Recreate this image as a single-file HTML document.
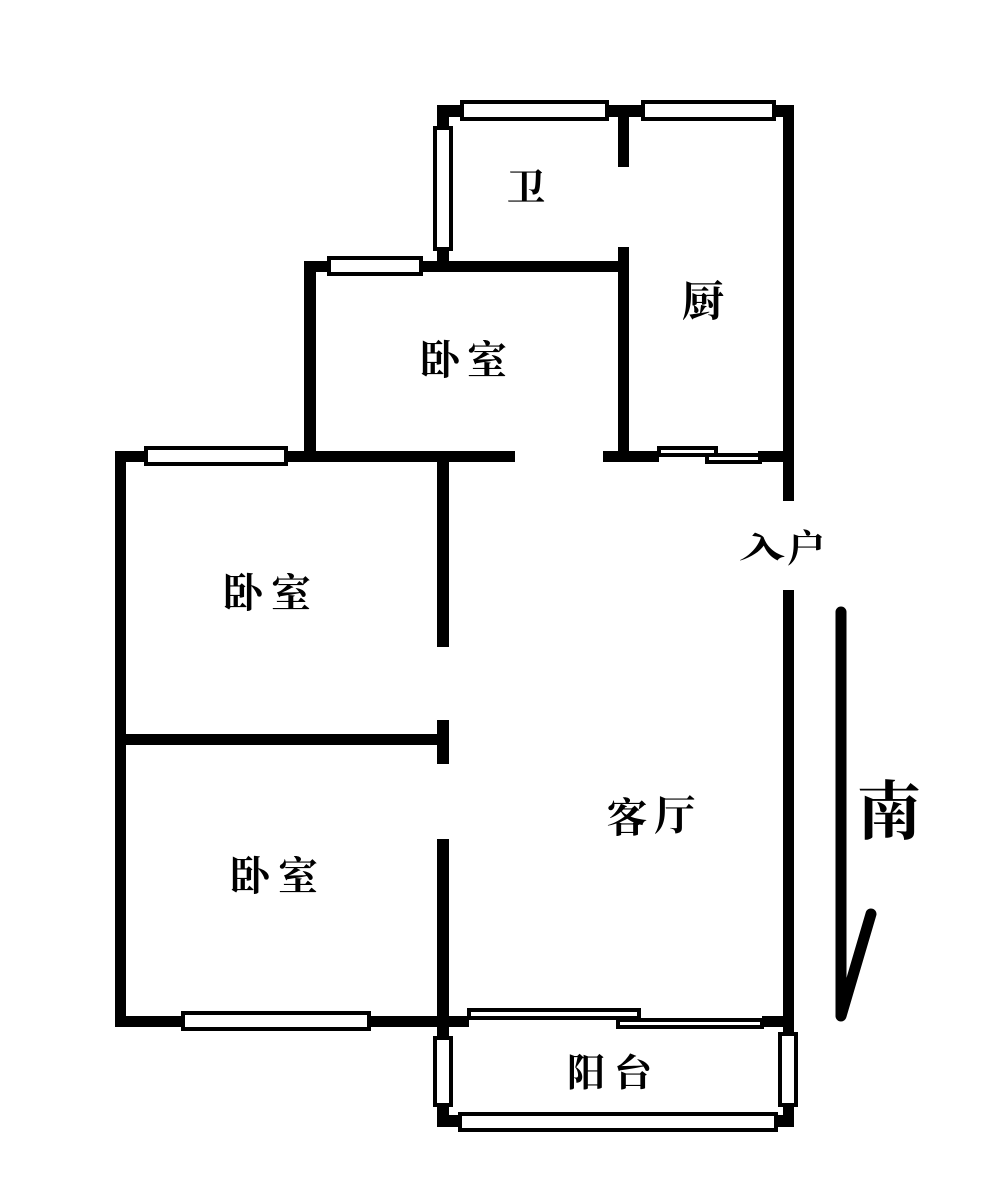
<!DOCTYPE html>
<html>
<head>
<meta charset="utf-8">
<style>
html,body{margin:0;padding:0;background:#fff;}
svg{display:block;}
text{font-family:"Liberation Serif","Noto Serif CJK SC",serif;font-weight:700;fill:#000;text-anchor:middle;}
.w{fill:#fff;stroke:#000;stroke-width:4;}
</style>
</head>
<body>
<svg width="1000" height="1203" viewBox="0 0 1000 1203" xmlns="http://www.w3.org/2000/svg">
<rect width="1000" height="1203" fill="#fff"/>
<g fill="#000">
<rect x="437" y="105" width="357" height="12"/>
<rect x="437" y="105" width="12" height="167"/>
<rect x="783" y="105" width="11" height="396"/>
<rect x="618" y="105" width="11" height="62"/>
<rect x="618" y="247" width="11" height="215"/>
<rect x="304" y="261" width="325" height="11"/>
<rect x="304" y="261" width="12" height="201"/>
<rect x="115" y="451" width="400" height="11"/>
<rect x="603" y="451" width="56" height="11"/>
<rect x="758" y="451" width="36" height="11"/>
<rect x="115" y="451" width="11" height="576"/>
<rect x="437" y="451" width="12" height="196"/>
<rect x="115" y="734" width="334" height="11"/>
<rect x="437" y="720" width="12" height="44"/>
<rect x="437" y="839" width="12" height="288"/>
<rect x="115" y="1016" width="354" height="11"/>
<rect x="762" y="1016" width="32" height="11"/>
<rect x="783" y="590" width="11" height="537"/>
<rect x="437" y="1115" width="357" height="12"/>
</g>
<rect class="w" x="462" y="102" width="145" height="17"/>
<rect class="w" x="643" y="102" width="131" height="17"/>
<rect class="w" x="435" y="128" width="16" height="121"/>
<rect class="w" x="329" y="258" width="92" height="16"/>
<rect class="w" x="146" y="448" width="140" height="16"/>
<rect class="w" x="183" y="1013" width="186" height="16"/>
<rect class="w" x="435" y="1038" width="16" height="67"/>
<rect class="w" x="780" y="1034" width="16" height="71"/>
<rect class="w" x="460" y="1114" width="316" height="16"/>
<rect class="w" x="659" y="448" width="57" height="7"/>
<rect class="w" x="707" y="455" width="53" height="7"/>
<rect class="w" x="469" y="1010" width="170" height="8"/>
<rect class="w" x="618" y="1020" width="144" height="7"/>
<text x="526" y="201" font-size="38">卫</text>
<text x="703" y="316" font-size="42">厨</text>
<text x="440" y="374" font-size="40">卧</text>
<text x="487" y="374" font-size="40">室</text>
<text x="243" y="607" font-size="40">卧</text>
<text x="291" y="607" font-size="40">室</text>
<text x="250" y="890" font-size="40">卧</text>
<text x="298" y="890" font-size="40">室</text>
<text x="627" y="832" font-size="41">客</text>
<text x="675" y="830" font-size="41">厅</text>
<text transform="translate(762,558) scale(1.25,0.8)" font-size="37">入</text>
<text x="806" y="562" font-size="38">户</text>
<text x="586" y="1086" font-size="38">阳</text>
<text x="633" y="1086" font-size="38">台</text>
<text x="889" y="834" font-size="64">南</text>
<path d="M841 612 L841 1016 L871 914" fill="none" stroke="#000" stroke-width="11" stroke-linecap="round" stroke-linejoin="round"/>
</svg>
</body>
</html>
